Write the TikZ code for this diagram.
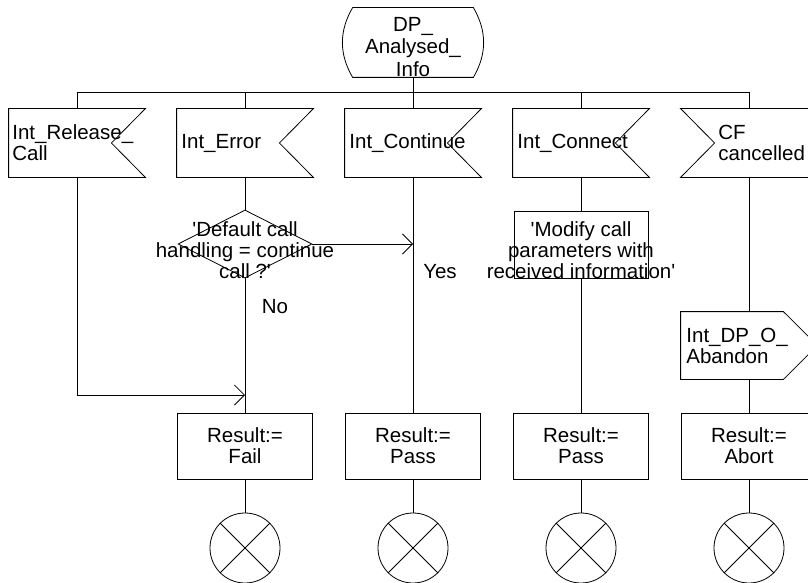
\documentclass[tikz,border=0pt]{standalone}
\usepackage{fontspec}
\setmainfont{Liberation Sans}
\usetikzlibrary{arrows.meta,shapes.geometric}
\newcommand\insigshape[1]{\draw (#1.north west) -- (#1.north east) -- ([xshift=-34pt]#1.east) -- (#1.south east) -- (#1.south west) -- cycle;}
\newcommand\insigshapeL[1]{\draw (#1.north west) -- (#1.north east) -- (#1.south east) -- (#1.south west) -- ([xshift=34pt]#1.west) -- cycle;}
\newcommand\outsigshape[1]{\draw (#1.north west) -- ([xshift=-34pt]#1.north east) -- (#1.east) -- ([xshift=-34pt]#1.south east) -- (#1.south west) -- cycle;}
\newcommand\stopcross[1]{\draw (#1.north west) -- (#1.south east) (#1.north east) -- (#1.south west);}
\begin{document}
\begin{tikzpicture}[x=1pt,y=-1pt,line width=0.8pt,
  every node/.style={font=\fontsize{20.5}{21}\selectfont},
  shp/.style={rectangle,draw=none,minimum width=136pt,minimum height=68pt,inner sep=0pt},
  resbox/.style={rectangle,draw,minimum width=135pt,minimum height=66pt,inner sep=0pt,align=center},
  lbl/.style={inner sep=0pt,align=left,anchor=west},
  ctr/.style={inner sep=0pt,align=center},
  stopc/.style={circle,draw,minimum size=70pt,inner sep=0pt},
  arr/.style={-{Straight Barb[length=10pt,width=20pt]}}
]
\useasboundingbox (0,0) rectangle (808,583);

% start symbol
\node[shp,minimum width=120pt,minimum height=69pt] (start) at (413,42.5) {};
\draw (start.north west) -- (start.north east) to[bend left=30] (start.south east) -- (start.south west) to[bend left=30] (start.north west);
\node[ctr,font=\fontsize{20.5}{22.5}\selectfont] (starttxt) at (413,47) {DP\_\\Analysed\_\\Info};

\coordinate (bus) at (413,92.5);

% input signals
\node[shp] (rel) at (77,143) {};
\insigshape{rel}
\node[lbl] (reltxt) at (12,143) {Int\_Release\_\\Call};

\node[shp] (err) at (245,143) {};
\insigshape{err}
\node[lbl] (errtxt) at (181,143) {Int\_Error};

\node[shp] (cont) at (413,143) {};
\insigshape{cont}
\node[lbl] (conttxt) at (349,143) {Int\_Continue};

\node[shp] (conn) at (581,143) {};
\insigshape{conn}
\node[lbl] (conntxt) at (517,143) {Int\_Connect};

\node[shp] (cf) at (749,143) {};
\insigshapeL{cf}
\node[lbl] (cftxt) at (718,143) {CF\\cancelled};

% bus
\draw (rel.north) -- (rel.north |- bus) -| (cf.north);
\draw (start.south) -- (bus);
\draw (err.north) -- (err.north |- bus);
\draw (cont.north) -- (cont.north |- bus);
\draw (conn.north) -- (conn.north |- bus);

% decision
\node[diamond,draw,minimum width=134pt,minimum height=68pt,inner sep=0pt] (dec) at (245,244) {};
\node[ctr] (dectxt) at (245,250) {\textquotesingle Default call\\handling = continue\\call ?\textquotesingle};

% task
\node[rectangle,draw,minimum width=134pt,minimum height=67pt,inner sep=0pt] (task) at (581,244.5) {};
\node[ctr] (tasktxt) at (581,250) {\textquotesingle Modify call\\parameters with\\received information\textquotesingle};

% output signal
\node[shp,minimum height=67pt] (aband) at (749,345.5) {};
\outsigshape{aband}
\node[lbl] (abandtxt) at (686,345.5) {Int\_DP\_O\_\\Abandon};

% results
\node[resbox] (r1) at (245,446) {Result:=\\Fail};
\node[resbox] (r2) at (413,446) {Result:=\\Pass};
\node[resbox] (r3) at (581,446) {Result:=\\Pass};
\node[resbox] (r4) at (749,446) {Result:=\\Abort};

% stops
\node[stopc] (s1) at (245,548) {};
\node[stopc] (s2) at (413,548) {};
\node[stopc] (s3) at (581,548) {};
\node[stopc] (s4) at (749,548) {};
\stopcross{s1}\stopcross{s2}\stopcross{s3}\stopcross{s4}

% labels
\node[ctr] (yes) at (440,272) {Yes};
\node[ctr] (no) at (275,307) {No};

% connectors
\coordinate (join) at (245,395);
\draw (err.south) -- (dec.north);
\draw (dec.south) -- (r1.north);
\draw[arr] (dec.east) -- (dec.east -| cont.south);
\draw[arr] (rel.south) |- (join);
\draw (cont.south) -- (r2.north);
\draw (conn.south) -- (task.north);
\draw (task.south) -- (r3.north);
\draw (cf.south) -- (aband.north);
\draw (aband.south) -- (r4.north);
\draw (r1.south) -- (s1.north);
\draw (r2.south) -- (s2.north);
\draw (r3.south) -- (s3.north);
\draw (r4.south) -- (s4.north);
\end{tikzpicture}
\end{document}
